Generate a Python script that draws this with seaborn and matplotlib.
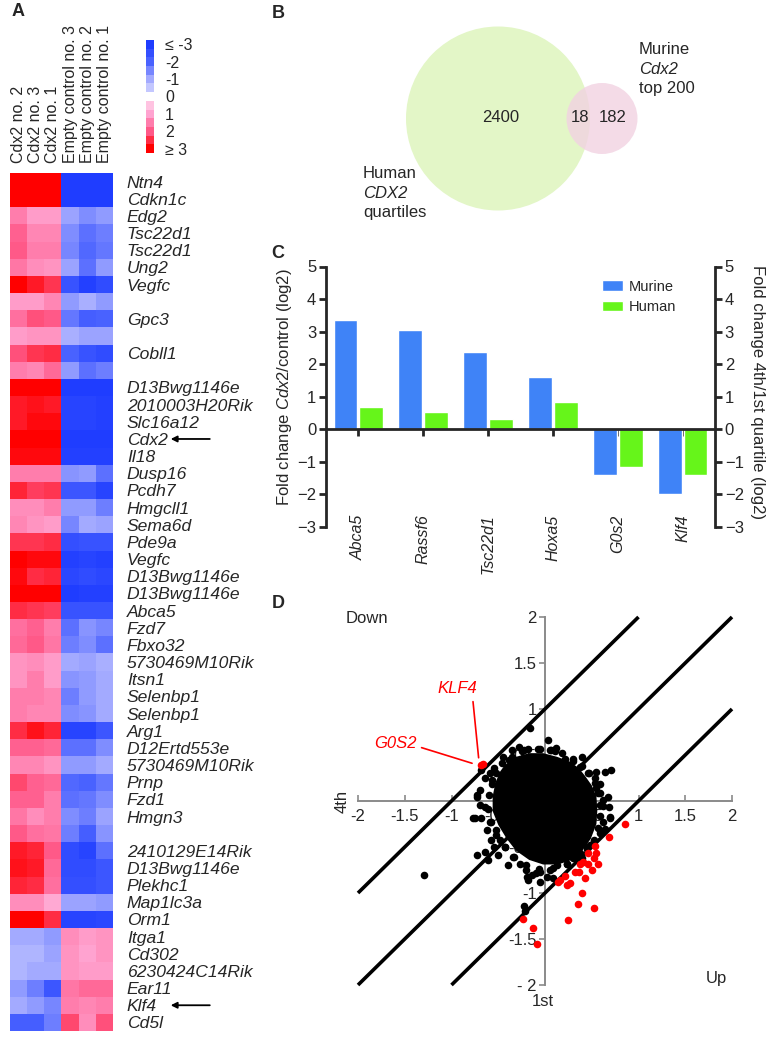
import numpy as np
import pandas as pd
import matplotlib
matplotlib.use("Agg")
import matplotlib.pyplot as plt
from matplotlib.colors import LinearSegmentedColormap
from matplotlib.patches import Circle
import seaborn as sns

sns.set_style("white")
plt.rcParams['font.family'] = ['Liberation Sans', 'DejaVu Sans']
plt.rcParams['mathtext.fontset'] = 'custom'
plt.rcParams['mathtext.rm'] = 'Liberation Sans'
plt.rcParams['mathtext.it'] = 'Liberation Sans:italic'

# ---- panel A data ----
samples = ['Cdx2 no. 2', 'Cdx2 no. 3', 'Cdx2 no. 1',
           'Empty control no. 3', 'Empty control no. 2', 'Empty control no. 1']
genes = ['Ntn4', 'Cdkn1c', 'Edg2', 'Tsc22d1', 'Tsc22d1', 'Ung2', 'Vegfc', '',
         'Gpc3', '', 'Cobll1', '', 'D13Bwg1146e', '2010003H20Rik', 'Slc16a12',
         'Cdx2', 'Il18', 'Dusp16', 'Pcdh7', 'Hmgcll1', 'Sema6d', 'Pde9a', 'Vegfc',
         'D13Bwg1146e', 'D13Bwg1146e', 'Abca5', 'Fzd7', 'Fbxo32', '5730469M10Rik',
         'Itsn1', 'Selenbp1', 'Selenbp1', 'Arg1', 'D12Ertd553e', '5730469M10Rik',
         'Prnp', 'Fzd1', 'Hmgn3', '', '2410129E14Rik', 'D13Bwg1146e', 'Plekhc1',
         'Map1lc3a', 'Orm1', 'Itga1', 'Cd302', '6230424C14Rik', 'Ear11', 'Klf4', 'Cd5l']
expr = [
    [3.0, 3.0, 3.0, -3.0, -3.0, -3.0],
    [3.0, 3.0, 3.0, -3.0, -3.0, -3.0],
    [1.5, 1.1, 1.1, -1.1, -1.4, -1.2],
    [1.9, 1.4, 1.4, -1.4, -1.8, -1.6],
    [2.0, 1.5, 1.5, -1.5, -1.9, -1.7],
    [1.6, 1.3, 1.2, -1.1, -1.8, -1.2],
    [3.0, 2.7, 2.4, -2.4, -2.9, -2.6],
    [1.1, 1.1, 1.4, -1.2, -0.9, -1.2],
    [1.7, 2.1, 2.0, -1.7, -2.1, -2.0],
    [1.1, 1.2, 1.2, -0.9, -1.1, -1.1],
    [2.1, 2.4, 2.5, -2.0, -2.4, -2.6],
    [1.5, 1.4, 1.8, -1.2, -1.8, -1.6],
    [3.0, 3.0, 3.0, -3.0, -3.0, -3.0],
    [2.7, 2.8, 2.7, -2.8, -2.8, -2.9],
    [2.7, 2.9, 2.9, -2.8, -2.8, -2.9],
    [3.0, 3.0, 3.0, -3.0, -3.0, -3.0],
    [2.9, 2.9, 2.9, -2.9, -2.9, -2.9],
    [1.5, 1.5, 1.5, -1.3, -1.2, -1.8],
    [2.6, 2.3, 2.4, -2.3, -2.3, -2.8],
    [1.3, 1.3, 1.5, -1.2, -1.2, -1.6],
    [1.4, 1.2, 1.1, -1.5, -1.0, -1.1],
    [2.4, 2.4, 2.5, -2.5, -2.4, -2.4],
    [3.0, 2.9, 2.9, -2.9, -2.8, -2.9],
    [2.9, 2.5, 2.6, -2.7, -2.6, -2.7],
    [3.0, 3.0, 3.0, -3.0, -2.9, -2.9],
    [2.5, 2.4, 2.3, -2.4, -2.4, -2.4],
    [1.7, 1.9, 1.5, -1.8, -1.3, -1.5],
    [1.8, 2.0, 1.6, -1.6, -1.4, -1.8],
    [1.2, 1.3, 1.1, -1.0, -1.1, -0.9],
    [1.2, 1.5, 1.1, -1.3, -1.2, -1.0],
    [1.5, 1.5, 1.4, -1.6, -1.2, -1.0],
    [1.5, 1.4, 1.4, -1.4, -1.3, -1.0],
    [2.5, 2.8, 2.6, -2.8, -2.8, -2.3],
    [1.9, 1.9, 1.8, -1.8, -1.8, -1.4],
    [1.4, 1.4, 1.2, -1.2, -1.2, -1.0],
    [2.2, 1.9, 1.8, -1.9, -2.0, -1.7],
    [1.9, 1.9, 1.5, -1.8, -1.7, -1.4],
    [1.6, 1.3, 1.5, -1.4, -1.6, -1.1],
    [2.0, 1.7, 1.6, -1.6, -2.1, -1.3],
    [2.7, 2.6, 2.0, -2.6, -2.8, -1.8],
    [2.8, 2.7, 1.8, -2.6, -2.6, -2.3],
    [2.6, 2.5, 1.7, -2.5, -2.5, -2.3],
    [1.3, 1.3, 0.9, -1.1, -1.1, -1.2],
    [3.0, 3.0, 2.5, -2.8, -2.8, -2.7],
    [-1.0, -1.0, -1.2, 1.3, 1.1, 1.2],
    [-0.8, -0.8, -1.1, 1.2, 1.0, 1.2],
    [-0.8, -1.0, -1.0, 1.2, 1.1, 1.1],
    [-1.2, -1.6, -2.3, 1.6, 1.8, 1.8],
    [-1.0, -1.2, -1.5, 1.5, 1.4, 1.5],
    [-2.1, -2.1, -1.6, 2.2, 1.3, 2.1],
]
arrow_genes = ['Cdx2', 'Klf4']
cbar_vals = [-3, -2.5, -2, -1.5, -1, -0.5, np.nan, 0.5, 1, 1.5, 2, 2.5, 3]
cbar_labels = ['≤ -3', '-2', '-1', '0', '1', '2', '≥ 3']

# ---- panel B data ----
venn_counts = [2400, 18, 182]

# ---- panel C data ----
c_genes = ['Abca5', 'Rassf6', 'Tsc22d1', 'Hoxa5', 'G0s2', 'Klf4']
murine_fc = [3.35, 3.05, 2.38, 1.6, -1.4, -2.0]
human_fc = [0.7, 0.53, 0.32, 0.85, -1.15, -1.4]

# ---- panel D data ----
core_x = [-0.43, -0.31, -0.17, -0.02, 0.13, 0.26, 0.36, 0.43, 0.50, 0.55, 0.56,
          0.55, 0.49, 0.40, 0.29, 0.14, -0.02, -0.17, -0.31, -0.41, -0.50, -0.56,
          -0.56, -0.53, -0.48]
core_y = [0.39, 0.48, 0.52, 0.52, 0.48, 0.43, 0.36, 0.27, 0.17, 0.05, -0.10,
          -0.25, -0.41, -0.54, -0.64, -0.69, -0.69, -0.64, -0.54, -0.41, -0.26, -0.11,
          0.05, 0.20, 0.32]
black_x = [0.035, 0.053, -0.356, -0.25, -0.39, -0.55, -0.59, -0.64, -0.68, -0.57,
           -0.70, -0.73, -0.70, -0.64, -0.75, -0.68, -0.59, -0.62, -0.52, -0.48,
           -0.55, -0.50, -0.64, -0.73, -0.61, -0.43, -0.34, -0.27, -0.20, -0.14,
           -0.053, 0.053, 0.125, 0.23, 0.30, 0.37, 0.45, 0.52, 0.59, 0.64, 0.62,
           0.695, 0.68, 0.62, 0.59, 0.55, 0.59, 0.535, 0.55, 0.64, 0.71, 0.46, 0.37,
           0.30, 0.21, 0.107, -0.053, -0.18, -0.445, -0.16, -1.29, -0.77, -0.73,
           0.40, 0.67, 0.70, -0.22, -0.21, -0.19, 0.02, 0.09, -0.18, -0.053,
           -0.35, -0.22, -0.08, 0.06, 0.18, 0.30, 0.40, 0.47, 0.53, 0.57, 0.59, 0.59,
           0.57, 0.52, 0.45, 0.35, 0.23, 0.09, -0.06, -0.20, -0.33, -0.43, -0.52,
           -0.58, -0.61, -0.60, -0.57, -0.52, -0.46, -0.28, 0.12, 0.48, 0.62, 0.40,
           -0.10, -0.40, -0.58]
black_y = [0.66, 0.55, 0.55, 0.54, 0.45, 0.355, 0.30, 0.25, 0.34, 0.23, 0.12,
           0.047, -0.043, -0.062, -0.19, -0.19, -0.225, -0.315, -0.315, -0.42,
           -0.50, -0.59, -0.55, -0.59, -0.64, -0.50, -0.605, -0.68, -0.75, -0.80,
           -0.77, -0.75, -0.70, -0.68, -0.62, -0.57, -0.50, -0.44, -0.35, -0.30,
           -0.225, -0.17, -0.062, 0.011, 0.084, 0.14, 0.19, 0.25, 0.32, 0.32, 0.34,
           0.30, 0.37, 0.43, 0.46, 0.54, 0.56, 0.56, 0.48, 0.79, -0.80, -0.18, 0.07,
           0.48, 0.04, -0.18, -1.14, -1.20, -0.83, -0.83, -0.84, -0.86, -0.88,
           0.48, 0.55, 0.57, 0.55, 0.52, 0.46, 0.38, 0.30, 0.20, 0.09, -0.04, -0.16,
           -0.29, -0.42, -0.52, -0.60, -0.69, -0.73, -0.74, -0.70, -0.61, -0.50, -0.37,
           -0.23, -0.09, 0.06, 0.19, 0.30, 0.41, 0.59, 0.58, -0.48, -0.05, -0.62,
           -0.78, -0.70, -0.42]
red_x = [-0.68, -0.66, 0.856, 0.68, 0.535, 0.55, 0.46, 0.52, 0.57, 0.50, 0.46,
         0.41, 0.37, 0.36, 0.32, 0.43, 0.27, 0.23, 0.21, 0.16, 0.14, 0.40, 0.35,
         0.52, 0.25, -0.23, -0.125, -0.09]
red_y = [0.39, 0.40, -0.25, -0.39, -0.49, -0.56, -0.57, -0.62, -0.68, -0.75, -0.68,
         -0.66, -0.68, -0.77, -0.77, -0.84, -0.89, -0.91, -0.82, -0.86, -0.88, -1.00,
         -1.12, -1.16, -1.29, -1.28, -1.38, -1.55]
diag_offsets = [1, 0, -1]
d_ticks = [-2, -1.5, -1, -0.5, 0.5, 1, 1.5, 2]
d_xlabels = ['-2', '-1.5', '-1', '-0.5', '0.5', '1', '1.5', '2']
d_ylabels = ['- 2', '-1.5', '-1', '-0.5', '0.5', '1', '1.5', '2']

W, H = 769, 1037
fig = plt.figure(figsize=(W / 100, H / 100), dpi=100)


def px_axes(x0, y0, x1, y1):
    return fig.add_axes([x0 / W, 1 - y1 / H, (x1 - x0) / W, (y1 - y0) / H])


def ftext(x, y, s, **kw):
    fig.text(x / W, 1 - y / H, s, **kw)


cmap = LinearSegmentedColormap.from_list('rb', [
    (0.0, '#1f3dff'), (1 / 6, '#4a62ff'), (2 / 6, '#a3aaff'), (0.4999, '#e4e4ff'),
    (0.5, '#ffe4f2'), (4 / 6, '#ffa3d0'), (5 / 6, '#ff5a8a'), (1.0, '#ff0000')])

# ---------------- A: heatmap ----------------
ax_hm = px_axes(10, 173, 113, 1031)
df_hm = pd.DataFrame(expr, columns=samples)
sns.heatmap(df_hm, cmap=cmap, vmin=-3, vmax=3, cbar=False, ax=ax_hm,
            xticklabels=False, yticklabels=False)
ax_hm.set_yticks(np.arange(len(genes)) + 0.5)
ax_hm.set_yticklabels(genes, fontsize=12.6, style='italic')
ax_hm.yaxis.tick_right()
ax_hm.tick_params(axis='y', length=0, pad=10, left=False, labelleft=False)
ax_hm.set_xticks(np.arange(len(samples)) + 0.5)
ax_hm.set_xticklabels(samples, rotation=90, fontsize=11.5)
ax_hm.xaxis.tick_top()
ax_hm.tick_params(axis='x', length=0, pad=7, bottom=False, labelbottom=False)
for g in arrow_genes:
    row = genes.index(g) + 0.5
    ax_hm.annotate('', xy=(9.2, row), xytext=(11.8, row), annotation_clip=False,
                   arrowprops=dict(arrowstyle='-|>', color='black', lw=1.3,
                                   mutation_scale=9))

ax_cb = px_axes(146, 40, 154, 153)
sns.heatmap(np.array(cbar_vals).reshape(-1, 1), cmap=cmap, vmin=-3, vmax=3,
            cbar=False, ax=ax_cb, xticklabels=False, yticklabels=False)
ax_cb.set_yticks(np.arange(0, len(cbar_vals), 2) + 0.5)
ax_cb.set_yticklabels(cbar_labels, fontsize=11.5)
ax_cb.yaxis.tick_right()
ax_cb.tick_params(axis='y', length=0, pad=8, left=False, labelleft=False)

# ---------------- B: venn ----------------
ax_b = px_axes(262, 0, 769, 240)
ax_b.set_xlim(262, 769)
ax_b.set_ylim(240, 0)
ax_b.axis('off')
ax_b.add_patch(Circle((498, 118.5), 92, color='#e3f6c7', lw=0))
ax_b.add_patch(Circle((602, 118.5), 35.5, color='#f2d2e2', alpha=0.8, lw=0))
ax_b.text(501, 118, str(venn_counts[0]), fontsize=12, ha='center', va='center')
ax_b.text(580, 118, str(venn_counts[1]), fontsize=12, ha='center', va='center')
ax_b.text(613, 118, str(venn_counts[2]), fontsize=12, ha='center', va='center')
ax_b.text(639, 49, 'Murine', fontsize=12, va='center')
ax_b.text(639, 69, 'Cdx2', fontsize=12, va='center', style='italic')
ax_b.text(639, 89, 'top 200', fontsize=12, va='center')
ax_b.text(363, 174, 'Human', fontsize=12, va='center')
ax_b.text(363, 194, 'CDX2', fontsize=12, va='center', style='italic')
ax_b.text(363, 213, 'quartiles', fontsize=12, va='center')

# ---------------- C: bars ----------------
ax_c = px_axes(326, 266.5, 715, 527)
df_c = pd.DataFrame({'gene': c_genes * 2,
                     'fc': murine_fc + human_fc,
                     'species': ['Murine'] * len(c_genes) + ['Human'] * len(c_genes)})
sns.barplot(data=df_c, x='gene', y='fc', hue='species',
            palette=['#3f83f7', '#66f51a'], saturation=1, width=0.8, gap=0.08,
            ax=ax_c)
ax_c.set_xlim(-0.5, len(c_genes) - 0.5)
ax_c.set_ylim(-3, 5)
ax_c.set_yticks(range(-3, 6))
ax_c.set_xlabel('')
ax_c.set_ylabel('')
ax_c.spines['bottom'].set_position(('data', 0))
ax_c.spines['top'].set_visible(False)
ax_c.spines['right'].set_visible(False)
for s in ['left', 'bottom']:
    ax_c.spines[s].set_linewidth(2)
ax_c.tick_params(axis='x', length=5, width=2, direction='out', labelbottom=False, bottom=True)
ax_c.tick_params(axis='y', length=5, width=2, direction='out', labelsize=12, pad=2, left=True)
for i, g in enumerate(c_genes):
    ax_c.text(i, -2.62, g, rotation=90, ha='center', va='top', fontsize=11.5, style='italic')
sns.move_legend(ax_c, 'upper left', bbox_to_anchor=(0.675, 1.0), frameon=False, title=None,
                fontsize=10.5, handlelength=1.45, handleheight=0.75, labelspacing=0.45,
                handletextpad=0.4)
ax2 = ax_c.twinx()
ax2.set_ylim(-3, 5)
ax2.set_yticks(range(-3, 6))
for s in ['left', 'top', 'bottom']:
    ax2.spines[s].set_visible(False)
ax2.spines['right'].set_linewidth(2)
ax2.tick_params(axis='y', length=5, width=2, direction='out', labelsize=12, pad=2, right=True)
ftext(285, 387, 'Fold change $\\mathit{Cdx2}$/control (log2)', rotation=90,
      ha='center', va='center', fontsize=12)
ftext(757, 392, 'Fold change 4th/1st quartile (log2)', rotation=270,
      ha='center', va='center', fontsize=12)

# ---------------- D: scatter ----------------
ax_d = px_axes(340, 600, 750, 1010)
ax_d.set_xlim((340 - 545) / 93.5, (750 - 545) / 93.5)
ax_d.set_ylim((801 - 1010) / 92, (801 - 600) / 92)
ax_d.set_axisbelow(True)
for c in diag_offsets:
    x0, x1 = max(-2, -2 - c), min(2, 2 - c)
    ax_d.plot([x0, x1], [x0 + c, x1 + c], color='black', lw=2.6, zorder=3,
              solid_capstyle='butt')
ax_d.fill(core_x, core_y, color='black', lw=0, zorder=4)
sns.scatterplot(x=black_x, y=black_y, color='black', s=30, linewidth=0, ax=ax_d, zorder=5)
sns.scatterplot(x=red_x, y=red_y, color='#ff0000', s=30, linewidth=0, ax=ax_d, zorder=6)
for s in ['left', 'bottom']:
    ax_d.spines[s].set_position(('data', 0))
    ax_d.spines[s].set_bounds(-2, 2)
    ax_d.spines[s].set_color('#8a8a8a')
    ax_d.spines[s].set_linewidth(1.4)
for s in ['right', 'top']:
    ax_d.spines[s].set_visible(False)
ax_d.set_xticks(d_ticks)
ax_d.set_xticklabels(d_xlabels)
ax_d.set_yticks(d_ticks)
ax_d.set_yticklabels(d_ylabels)
ax_d.tick_params(axis='x', direction='in', length=4, width=1.2, color='#8a8a8a',
                 labelsize=12, pad=6, bottom=True)
ax_d.tick_params(axis='y', direction='out', length=4, width=1.2, color='#8a8a8a',
                 labelsize=12, pad=2, left=True)
ax_d.plot([-0.77, -0.71], [1.08, 0.47], color='red', lw=1.2, zorder=6)
ax_d.plot([-1.32, -0.78], [0.58, 0.41], color='red', lw=1.2, zorder=6)
ax_d.text(-0.94, 1.22, 'KLF4', color='red', style='italic', fontsize=12,
          ha='center', va='center')
ax_d.text(-1.60, 0.63, 'G0S2', color='red', style='italic', fontsize=12,
          ha='center', va='center')
ax_d.text(-2.17, 0, '4th', rotation=90, ha='center', va='center', fontsize=12)
ax_d.text(-0.02, -2.18, '1st', ha='center', va='center', fontsize=12)
ax_d.text(-1.90, 1.98, 'Down', ha='center', va='center', fontsize=12)
ax_d.text(1.83, -1.93, 'Up', ha='center', va='center', fontsize=12)

# panel letters
for letter, (x, y) in zip('ABCD', [(18, 12), (278, 13), (278, 254), (278, 603)]):
    ftext(x, y, letter, fontsize=13, fontweight='bold', ha='center', va='center')

fig.savefig('out.png', dpi=100)
